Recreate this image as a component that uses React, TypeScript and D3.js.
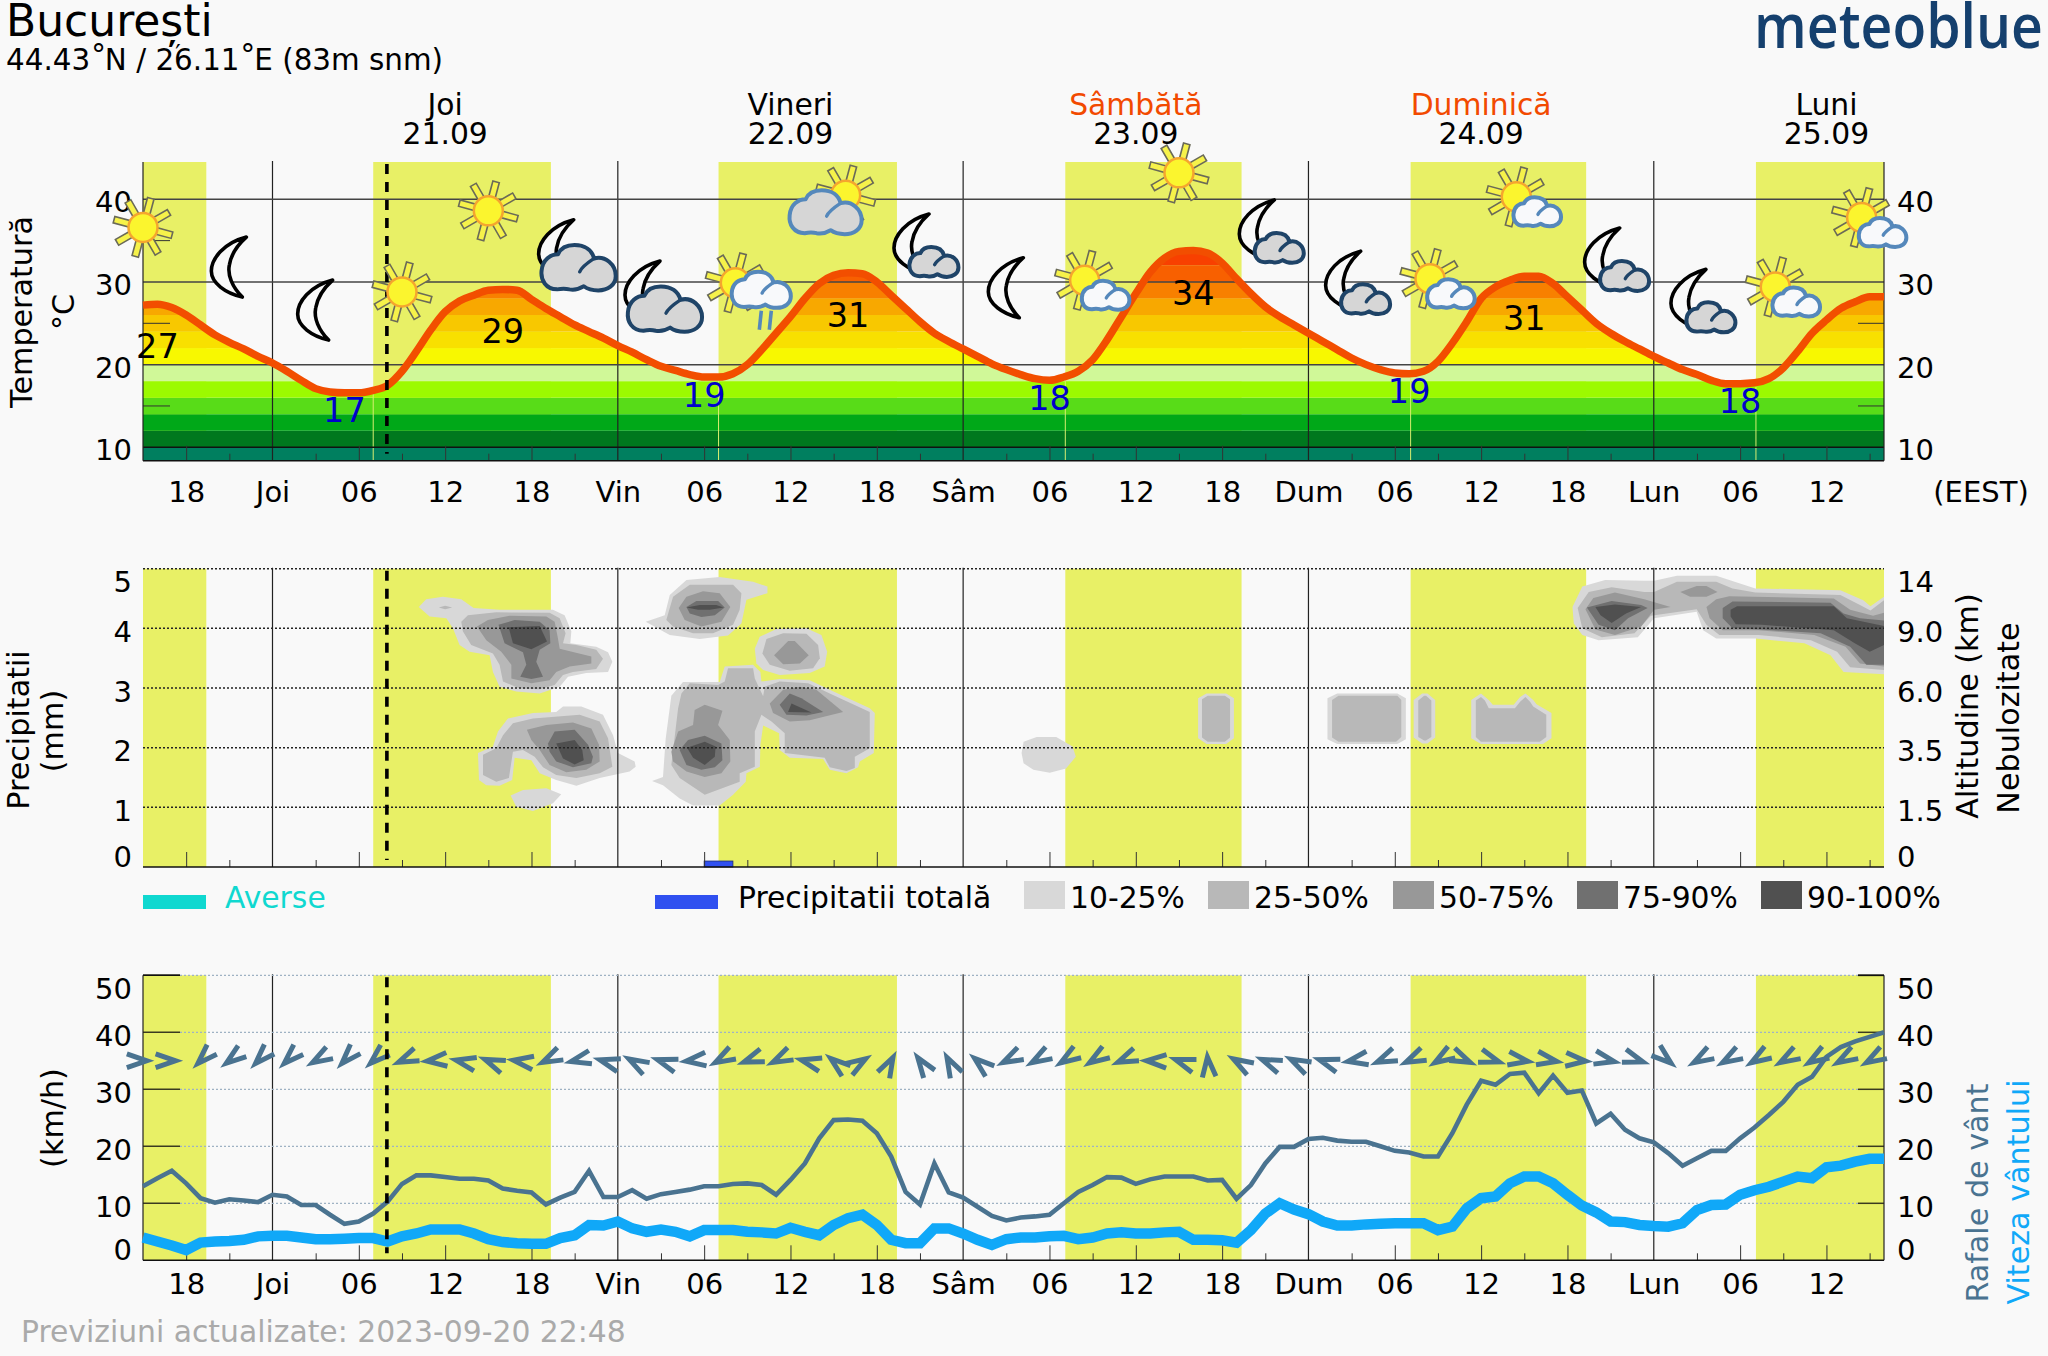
import React, { useEffect, useRef } from 'react';
import * as d3 from 'd3';

type Pt = [number, number];

// hours are counted from midnight at the start of Thursday 21.09
const firstHour = -9;
const lastHour = 112;

const tempValues = [
  27.2, 27.3, 26.9, 26.0, 24.8, 23.6, 22.7, 21.9, 21.0, 20.2, 19.2, 18.1, 17.1, 16.7, 16.6, 16.6, 16.9, 17.5, 19.2, 21.6, 24.2, 26.4, 27.7, 28.4, 29.0,
  29.1, 29.0, 27.9, 26.8, 25.8, 24.8, 24.0, 23.2, 22.3, 21.5, 20.6, 19.8, 19.3, 18.8, 18.5, 18.5, 18.9, 20.0, 21.8, 23.8, 25.8, 28.0, 29.8, 30.8, 31.1,
  31.0, 30.0, 28.4, 26.8, 25.2, 23.8, 22.8, 21.9, 21.0, 20.1, 19.4, 18.8, 18.3, 18.1, 18.5, 19.2, 20.6, 23.0, 25.8, 28.6, 31.2, 32.9, 33.7, 33.8, 33.5,
  32.3, 30.4, 28.6, 27.0, 25.8, 24.8, 23.8, 22.8, 21.8, 20.8, 20.0, 19.4, 19.0, 18.9, 19.2, 20.4, 22.6, 25.2, 28.0, 29.4, 30.2, 30.7, 30.7, 29.8, 28.2,
  26.6, 25.0, 23.8, 22.8, 21.9, 21.0, 20.2, 19.4, 18.8, 18.1, 17.7, 17.7, 17.8, 18.3, 19.6, 21.6, 23.8, 25.4, 26.8, 27.6, 28.2, 28.2,
];
const gustValues = [
  13.0, 14.4, 15.7, 13.5, 10.9, 10.1, 10.7, 10.5, 10.2, 11.5, 11.2, 9.7, 9.7, 8.0, 6.4, 6.8, 8.2, 10.3, 13.4, 14.9, 14.9, 14.6, 14.3, 14.3, 14.0,
  12.6, 12.2, 11.9, 9.8, 11.0, 12.0, 15.7, 11.1, 11.1, 12.3, 10.8, 11.6, 12.0, 12.4, 13.0, 13.0, 13.4, 13.5, 13.2, 11.5, 14.1, 17.0, 21.4, 24.6, 24.7,
  24.5, 22.3, 18.2, 12.0, 9.8, 17.0, 11.9, 11.0, 9.4, 7.8, 7.0, 7.5, 7.7, 8.0, 10.0, 12.0, 13.2, 14.6, 14.5, 13.4, 14.2, 14.7, 14.7, 14.7, 14.0,
  14.1, 10.8, 13.2, 17.0, 19.9, 19.9, 21.3, 21.5, 21.0, 20.8, 20.8, 20.0, 19.2, 18.9, 18.2, 18.2, 22.3, 27.3, 31.5, 30.8, 32.7, 32.9, 29.3, 32.4, 29.4,
  29.8, 24.0, 25.7, 22.9, 21.4, 20.7, 18.8, 16.6, 17.9, 19.2, 19.2, 21.4, 23.3, 25.5, 27.8, 30.8, 32.2, 35.7, 37.4, 38.4, 39.2, 40.0,
];
const speedValues = [
  4.0, 3.3, 2.6, 1.8, 3.1, 3.3, 3.4, 3.6, 4.2, 4.3, 4.3, 4.0, 3.7, 3.7, 3.8, 3.9, 3.9, 3.3, 4.2, 4.7, 5.4, 5.4, 5.4, 4.7, 3.7,
  3.2, 3.0, 2.9, 2.9, 3.9, 4.4, 6.2, 6.1, 6.8, 5.6, 5.0, 5.4, 5.0, 4.2, 5.3, 5.3, 5.3, 5.0, 4.9, 4.7, 5.7, 5.0, 4.4, 6.2, 7.4,
  8.0, 6.2, 3.6, 3.0, 3.0, 5.6, 5.6, 4.7, 3.6, 2.7, 3.7, 4.0, 4.0, 4.2, 4.3, 3.7, 4.0, 4.7, 4.9, 4.7, 4.7, 4.9, 5.0, 3.6, 3.6,
  3.5, 3.1, 5.3, 8.2, 10.0, 8.9, 8.1, 6.8, 6.1, 6.1, 6.3, 6.4, 6.5, 6.5, 6.5, 5.3, 5.9, 9.1, 10.9, 11.2, 13.5, 14.7, 14.7, 13.5, 11.5,
  9.6, 8.4, 6.8, 6.7, 6.2, 6.0, 5.9, 6.5, 8.8, 9.7, 9.8, 11.5, 12.3, 12.9, 13.8, 14.7, 14.4, 16.3, 16.6, 17.3, 17.8, 17.8,
];
// one arrow every two hours from firstHour, heading in degrees (0 = east, 90 = south)
const windHeadings = [
  0, 0, 135, 143, 134, 136, 150, 133, 138, 157, 175, 192, 202, 188, 154, 167, 196, 209, 198, 174, 151, 160, 154, 194, 219, 328, 298, 235, 242, 220, 153,
  150, 147, 147, 157, 182, 199, 265, 210, 202, 207, 198, 170, 157, 155, 148, 24, 18, 9, 10, 5, 12, 18, 40, 150, 150, 148, 150, 148, 150, 150,
];

const dayStarts = [-9, 7, 31, 55.1, 79.1, 103.1];
const dayEnds = [-4.6, 19.35, 43.4, 67.35, 91.3, 112];
const nowHour = 7.95;

const dayHeaderHours = [12, 36, 60, 84, 108];
const dayHeaderNames = ['Joi', 'Vineri', 'Sâmbătă', 'Duminică', 'Luni'];
const dayHeaderDates = ['21.09', '22.09', '23.09', '24.09', '25.09'];
const dayHeaderColors = ['#000', '#000', '#f24a00', '#f24a00', '#000'];
const dayAbbr = ['Joi', 'Vin', 'Sâm', 'Dum', 'Lun'];

const tempTicks = [40, 30, 20, 10];
const tempMinorTicks = [35, 25, 15];
const bandEdges = [8, 10, 12, 14, 16, 18, 20, 22, 24, 26, 28, 30, 32, 34];
const bandColors = ['#007f5f', '#00781e', '#00a818', '#58dc18', '#9cfa00', '#d0f898', '#f8f800', '#f8e000', '#f8c800', '#f8a800', '#f88000', '#f86000', '#f84000'];

const maxLabelHours = [-8, 16, 40, 64, 87];
const maxLabelTexts = ['27', '29', '31', '34', '31'];
const minLabelHours = [5, 30, 54, 79, 102];
const minLabelTexts = ['17', '19', '18', '19', '18'];

const iconHours = [-9, -3, 3, 9, 15, 21, 27, 33, 39, 45, 51, 57, 63, 69, 75, 81, 87, 93, 99, 105, 111];
const iconKinds = ['sun', 'moon', 'moon', 'sun', 'sun', 'moonBig', 'moonBig', 'sunRain', 'sunBig', 'moonSmall', 'moon', 'sunSmall', 'sun', 'moonSmall', 'moonSmall', 'sunSmall', 'sunSmall', 'moonSmall', 'moonSmall', 'sunSmall', 'sunSmall'];
const iconLevels = [36.6, 31.8, 26.6, 28.8, 38.6, 33.9, 28.9, 29.9, 40.5, 34.6, 29.3, 30.2, 43.2, 36.3, 30.1, 30.4, 40.3, 32.9, 27.9, 29.4, 37.8];

const precipTicks = [5, 4, 3, 2, 1, 0];
const altitudeLabels = ['14', '9.0', '6.0', '3.5', '1.5', '0'];
const precipStart = 30;
const precipEnd = 32;
const precipAmount = 0.1;

const windTicks = [50, 40, 30, 20, 10, 0];

// cloud cover outlines as [hour, axis value], one list per cover class
const cloud10: Pt[][] = [
  [[10.17,4.36],[10.68,4.49],[11.84,4.53],[13.12,4.49],[13.98,4.34],[15.78,4.31],[19.49,4.31],[20.3,4.22],[20.77,3.95],[20.7,3.75],[22.5,3.69],[23.32,3.6],[23.62,3.44],[23.32,3.27],[21.81,3.25],[20.54,3.19],[19.96,3.02],[18.57,2.91],[16.94,2.94],[15.78,3.02],[15.32,3.27],[15.09,3.55],[13.7,3.61],[13.0,3.72],[12.54,4.0],[12.08,4.17],[10.92,4.2]],
  [[14.28,1.91],[15.32,2.02],[15.67,2.27],[16.36,2.49],[18.1,2.58],[19.72,2.6],[20.19,2.69],[21.46,2.69],[22.97,2.55],[23.67,2.21],[24.01,1.91],[25.17,1.77],[25.24,1.68],[24.82,1.6],[22.74,1.49],[21.12,1.36],[19.72,1.46],[18.57,1.57],[17.99,1.79],[16.83,1.83],[16.66,1.46],[15.78,1.36],[14.86,1.37],[14.35,1.46]],
  [[16.55,1.2],[17.41,1.29],[19.03,1.32],[20.07,1.22],[19.49,1.07],[18.1,0.94],[16.94,1.01]],
  [[25.94,4.11],[27.26,4.22],[27.61,4.56],[28.77,4.81],[31.08,4.86],[33.4,4.78],[34.4,4.7],[34.4,4.59],[32.94,4.48],[32.59,4.08],[31.66,3.88],[29.69,3.82],[27.61,3.89]],
  [[33.52,3.66],[33.86,3.86],[35.02,3.99],[37.11,4.0],[38.15,3.89],[38.55,3.61],[38.38,3.36],[37.34,3.25],[35.25,3.22],[34.1,3.3],[33.63,3.41]],
  [[26.38,1.44],[27.14,1.51],[27.33,2.16],[27.72,2.87],[28.53,3.1],[31.08,3.1],[31.43,3.36],[33.4,3.39],[33.91,3.27],[33.98,3.11],[35.25,3.15],[37.34,3.13],[38.73,2.97],[41.51,2.66],[41.86,2.58],[41.79,1.91],[40.82,1.77],[40.7,1.67],[39.89,1.57],[38.73,1.63],[38.27,1.81],[35.95,1.83],[35.25,1.96],[35.21,2.24],[34.1,2.37],[33.91,2.05],[33.87,1.68],[32.94,1.57],[32.89,1.43],[32.01,1.21],[31.08,1.03],[29.23,1.03],[28.3,1.15],[27.14,1.37]],
  [[52.2,2.1],[53.11,2.18],[54.47,2.18],[55.61,2.02],[55.83,1.85],[55.15,1.65],[54.02,1.58],[52.88,1.63],[52.2,1.74],[52.06,1.91]],
  [[64.33,2.83],[64.92,2.91],[66.28,2.91],[66.82,2.83],[66.82,2.16],[66.28,2.06],[64.92,2.06],[64.33,2.16]],
  [[73.32,2.83],[74.0,2.91],[78.18,2.91],[78.77,2.83],[78.77,2.14],[78.18,2.06],[74.0,2.06],[73.32,2.14]],
  [[79.31,2.8],[79.9,2.91],[80.27,2.91],[80.81,2.8],[80.81,2.17],[80.27,2.07],[79.9,2.07],[79.31,2.17]],
  [[83.31,2.8],[83.99,2.91],[84.53,2.8],[84.81,2.72],[86.26,2.72],[86.71,2.85],[87.08,2.91],[87.62,2.8],[87.85,2.73],[88.89,2.58],[88.89,2.16],[88.3,2.06],[83.99,2.06],[83.31,2.16]],
  [[90.35,4.36],[91.03,4.7],[92.62,4.81],[95.34,4.8],[96.02,4.8],[97.61,4.88],[100.34,4.88],[103.06,4.67],[108.97,4.64],[110.56,4.47],[111.06,4.37],[112,4.53],[112,3.23],[109.19,3.27],[108.28,3.55],[106.47,3.75],[103.06,3.83],[100.34,3.83],[99.43,3.97],[98.98,4.28],[96.02,4.17],[94.89,3.85],[92.16,3.8],[91.03,3.89],[90.44,4.08]],
];
const cloud25: Pt[][] = [
  [[13.12,4.11],[13.58,4.22],[15.55,4.27],[19.26,4.26],[19.96,4.17],[20.37,3.92],[20.19,3.75],[21.12,3.72],[22.5,3.64],[22.97,3.49],[22.5,3.32],[20.88,3.27],[20.19,3.22],[19.61,3.05],[18.57,2.98],[17.17,2.99],[16.02,3.11],[15.78,3.39],[15.32,3.58],[13.81,3.72],[13.23,3.95]],
  [[11.56,4.35],[12.0,4.38],[12.49,4.35],[12.0,4.32]],
  [[14.63,1.88],[15.55,1.99],[16.02,2.21],[16.71,2.41],[18.1,2.49],[21.35,2.55],[22.74,2.44],[23.32,2.16],[23.62,1.68],[22.74,1.57],[21.12,1.49],[19.72,1.54],[18.8,1.67],[18.22,1.85],[17.41,1.96],[16.71,1.93],[16.43,1.49],[15.55,1.43],[14.63,1.54]],
  [[27.37,4.14],[27.84,4.53],[29.0,4.73],[32.01,4.73],[32.59,4.59],[32.47,4.31],[32.01,4.06],[30.62,3.92],[29.23,3.92],[27.84,4.03]],
  [[34.05,3.58],[34.33,3.82],[35.49,3.92],[37.11,3.91],[37.92,3.72],[38.04,3.5],[37.57,3.33],[35.95,3.29],[34.56,3.39]],
  [[27.72,1.71],[28.19,2.66],[28.42,2.91],[29.0,3.08],[30.97,3.05],[31.43,3.11],[31.66,3.33],[33.4,3.33],[33.52,3.16],[34.1,2.86],[34.21,3.02],[35.25,3.11],[37.23,3.08],[38.73,2.91],[41.51,2.6],[41.51,1.99],[40.47,1.85],[40.47,1.66],[39.89,1.61],[38.73,1.67],[38.38,1.83],[35.6,1.91],[35.6,2.24],[34.68,2.44],[33.98,2.55],[33.52,2.27],[33.52,1.68],[32.47,1.57],[32.47,1.43],[30.04,1.21],[28.3,1.49]],
  [[64.6,2.81],[65.0,2.87],[66.19,2.87],[66.55,2.81],[66.55,2.17],[66.19,2.1],[65.0,2.1],[64.6,2.17]],
  [[73.64,2.8],[74.09,2.87],[78.18,2.87],[78.45,2.8],[78.45,2.18],[78.09,2.1],[74.09,2.1],[73.64,2.17]],
  [[79.63,2.79],[80.04,2.87],[80.17,2.87],[80.54,2.79],[80.54,2.18],[80.17,2.12],[80.04,2.12],[79.63,2.18]],
  [[83.63,2.79],[83.99,2.85],[84.26,2.79],[84.53,2.66],[86.35,2.66],[86.71,2.77],[87.08,2.85],[87.4,2.77],[87.62,2.69],[88.53,2.55],[88.53,2.18],[88.08,2.1],[83.99,2.1],[83.63,2.18]],
  [[90.71,4.34],[91.48,4.61],[93.07,4.69],[95.34,4.61],[96.02,4.61],[97.61,4.78],[100.34,4.78],[101.47,4.67],[103.06,4.6],[108.97,4.56],[110.33,4.39],[111.06,4.3],[112,4.47],[112,3.3],[109.65,3.35],[108.74,3.61],[106.92,3.8],[103.29,3.89],[100.56,3.89],[99.66,4.06],[98.98,4.32],[95.8,4.21],[94.66,3.92],[92.39,3.85],[91.03,4.0]],
];
const cloud50: Pt[][] = [
  [[14.21,4.03],[14.97,4.14],[16.48,4.21],[19.03,4.2],[19.61,4.11],[19.84,3.83],[19.96,3.66],[22.16,3.53],[22.16,3.41],[20.65,3.36],[19.72,3.27],[19.26,3.13],[17.99,3.08],[16.6,3.16],[16.6,3.39],[15.9,3.61],[14.86,3.8]],
  [[17.68,2.3],[19.03,2.38],[20.88,2.42],[22.16,2.32],[22.69,2.05],[22.74,1.77],[21.81,1.63],[20.42,1.59],[19.26,1.71],[18.57,1.96],[17.99,2.13]],
  [[28.23,4.34],[28.77,4.53],[29.92,4.62],[31.08,4.59],[31.82,4.36],[31.2,4.11],[29.81,4.03],[28.65,4.14]],
  [[34.86,3.55],[35.84,3.79],[36.3,3.79],[37.27,3.55],[36.65,3.41],[35.49,3.4]],
  [[27.72,1.93],[28.19,2.27],[29.23,2.38],[29.34,2.63],[30.04,2.72],[31.27,2.62],[30.97,2.38],[31.78,2.13],[31.82,1.77],[31.2,1.57],[30.04,1.51],[28.77,1.6],[27.84,1.77]],
  [[34.56,2.74],[35.49,2.97],[36.65,3.02],[37.8,2.97],[39.66,2.6],[37.34,2.46],[35.95,2.44],[34.79,2.58]],
  [[97.84,4.61],[98.98,4.71],[99.66,4.71],[100.43,4.61],[99.66,4.53],[98.52,4.53]],
  [[91.25,4.32],[91.8,4.51],[93.3,4.6],[95.34,4.49],[97.16,4.36],[96.02,4.31],[95.12,4.03],[93.3,3.89],[91.94,3.98]],
  [[99.66,4.36],[100.34,4.49],[101.25,4.54],[108.51,4.5],[109.65,4.31],[111.24,4.21],[112,4.26],[112,3.36],[110.33,3.41],[109.33,3.69],[107.15,3.89],[103.29,3.97],[100.79,3.97],[99.88,4.17]],
];
const cloud75: Pt[][] = [
  [[15.71,4.06],[16.83,4.14],[18.57,4.11],[19.26,3.97],[19.31,3.75],[18.57,3.64],[18.33,3.44],[18.8,3.19],[17.99,3.15],[17.22,3.19],[17.64,3.39],[17.41,3.6],[16.13,3.75]],
  [[19.15,2.07],[19.61,2.27],[21.0,2.3],[21.93,2.05],[22.27,1.85],[22.16,1.74],[20.88,1.67],[19.72,1.77],[19.26,1.93]],
  [[28.77,4.36],[29.46,4.46],[30.97,4.46],[31.43,4.35],[30.74,4.22],[29.81,4.19],[29.0,4.25]],
  [[28.3,1.96],[28.88,2.13],[30.04,2.2],[31.2,2.07],[31.27,1.79],[30.74,1.67],[29.81,1.63],[28.77,1.71]],
  [[35.25,2.72],[35.95,2.91],[36.76,2.83],[38.27,2.6],[37.11,2.54],[35.72,2.55]],
  [[91.35,4.35],[93.07,4.46],[95.12,4.39],[95.57,4.34],[94.21,4.17],[93.3,3.97],[92.16,4.06]],
  [[100.79,4.34],[101.47,4.45],[108.28,4.43],[109.19,4.25],[110.33,4.17],[112,4.13],[112,3.39],[110.78,3.39],[109.65,3.69],[107.6,3.92],[103.52,3.98],[101.47,4.0],[100.79,4.17]],
];
const cloud90: Pt[][] = [
  [[16.41,4.02],[18.57,4.04],[19.08,3.78],[17.99,3.65],[16.71,3.75]],
  [[19.72,2.07],[21.0,2.13],[21.53,1.96],[21.63,1.79],[21.0,1.72],[20.19,1.82]],
  [[28.77,4.35],[29.69,4.39],[30.84,4.39],[31.36,4.35],[30.39,4.31],[29.58,4.31]],
  [[28.81,2.0],[30.04,2.1],[30.8,2.02],[30.74,1.85],[30.04,1.71],[29.23,1.83]],
  [[35.83,2.6],[36.07,2.74],[37.46,2.59]],
  [[91.94,4.36],[93.3,4.4],[95.12,4.36],[94.07,4.25],[93.07,4.09],[92.3,4.22]],
  [[101.34,4.31],[101.79,4.37],[108.51,4.37],[109.42,4.17],[112,4.04],[112,3.72],[111.01,3.61],[109.97,3.75],[108.51,3.97],[103.52,4.06],[101.7,4.07],[101.34,4.2]],
];
const cloudColors = ['#d8d8d8', '#b8b8b8', '#989898', '#707070', '#505050'];
const cloudNames = ['10-25%', '25-50%', '50-75%', '75-90%', '90-100%'];

const BG = '#f9f9f9';
const DAY = '#e8f066';
const GUST = '#4a7390';
const SPEED = '#10a8f8';
const SHOWER = '#10d8d0';
const PRECIP = '#3050f0';
const FONT = "'DejaVu Sans', sans-serif";
const TEXT_SIZE = 29;
const WIDE_SIZE = 29.8;
const TITLE_SIZE = 30.2;

const CLOUD_PATH = 'M-21,21 C-32,21 -37,12 -36,3 C-35,-8 -27,-13 -20,-13 C-17,-20 -10,-22 -4,-22 C6,-22 13,-17 15,-9 C26,-12 36,-3 36,8 C36,17 28,22 19,22 C14,22 9,21 5,18 C0,21 -4,22 -9,21 C-13,20 -16,20 -21,21 Z';
const CLOUD_CURL = 'M1,4 C3,-1 9,-5 15,-9';
const MOON_PATH = 'M17,-30 C-6,-24 -18,-8 -18,4 C-18,16 -4,26 13,30 C3,20 -2,8 0,-2 C2,-14 8,-22 17,-30 Z';

const drawSun = (g: any, cx: number, cy: number) => {
  const sun = g.append('g').attr('transform', `translate(${cx},${cy})`);
  d3.range(8).forEach((i) => {
    sun.append('rect')
      .attr('x', -3.3).attr('y', -30).attr('width', 6.6).attr('height', 16)
      .attr('transform', `rotate(${15 + i * 45})`)
      .attr('fill', '#f6f24a').attr('stroke', '#6a6a58').attr('stroke-width', 1.6);
  });
  sun.append('circle').attr('r', 14.5).attr('fill', '#fbf52e').attr('stroke', '#f5a62e').attr('stroke-width', 2.5);
};

const drawMoon = (g: any, cx: number, cy: number) => {
  g.append('path')
    .attr('transform', `translate(${cx},${cy})`)
    .attr('d', MOON_PATH)
    .attr('fill', BG).attr('stroke', '#000').attr('stroke-width', 3.6).attr('stroke-linejoin', 'round');
};

const drawCloud = (g: any, cx: number, cy: number, s: number, stroke: string, fill: string) => {
  const c = g.append('g').attr('transform', `translate(${cx},${cy}) scale(${s})`);
  c.append('path').attr('d', CLOUD_PATH).attr('fill', fill).attr('stroke', stroke).attr('stroke-width', 4 / s).attr('stroke-linejoin', 'round');
  c.append('path').attr('d', CLOUD_CURL).attr('fill', 'none').attr('stroke', stroke).attr('stroke-width', 3.4 / s).attr('stroke-linecap', 'round');
};

const drawIcon = (g: any, kind: string, cx: number, cy: number) => {
  const navy = '#1f4468';
  const blue = '#5588bb';
  if (kind === 'sun') drawSun(g, cx, cy);
  if (kind === 'moon') drawMoon(g, cx, cy);
  if (kind === 'moonBig') {
    drawMoon(g, cx - 18, cy);
    drawCloud(g, cx + 4, cy + 18, 1.03, navy, '#d6d6d6');
  }
  if (kind === 'moonSmall') {
    drawMoon(g, cx - 8, cy);
    drawCloud(g, cx + 14, cy + 18, 0.68, navy, '#d6d6d6');
  }
  if (kind === 'sunSmall') {
    drawSun(g, cx - 8, cy);
    drawCloud(g, cx + 13, cy + 15, 0.66, blue, '#f8f9fb');
  }
  if (kind === 'sunBig') {
    drawSun(g, cx + 12, cy);
    drawCloud(g, cx - 8, cy + 17, 1, blue, '#d6d6d6');
  }
  if (kind === 'sunRain') {
    drawSun(g, cx - 12, cy);
    [12, 22].forEach((dx) => {
      g.append('line')
        .attr('x1', cx + dx + 2).attr('y1', cy + 28).attr('x2', cx + dx).attr('y2', cy + 47)
        .attr('stroke', blue).attr('stroke-width', 3.6);
    });
    drawCloud(g, cx + 14, cy + 7, 0.82, blue, '#f8f9fb');
  }
};

export default function App() {
  const svgRef = useRef<SVGSVGElement>(null);

  useEffect(() => {
    if (!svgRef.current) return;
    const svg = d3.select(svgRef.current);
    svg.selectAll('*').remove();

    const hours = d3.range(firstHour, lastHour + 1);
    const x = d3.scaleLinear().domain([firstHour, lastHour]).range([143, 1884]);
    const yTemp = d3.scaleLinear().domain([10, 40]).range([447.3, 199.3]);
    const yPrecip = d3.scaleLinear().domain([0, 5]).range([867, 568.7]);
    const yWind = d3.scaleLinear().domain([0, 50]).range([1260.3, 975.3]);
    const tempTop = 162;
    const tempBottom = 460.7;

    const plain = (sel: any, size = TEXT_SIZE, fill = '#000') =>
      sel.attr('font-family', FONT).attr('font-size', size).attr('fill', fill);

    const addText = (tx: number, ty: number, s: string, anchor = 'middle', size = TEXT_SIZE, fill = '#000') =>
      plain(svg.append('text'), size, fill).attr('x', tx).attr('y', ty).attr('text-anchor', anchor).text(s);

    const addRotated = (tx: number, ty: number, s: string, size = TITLE_SIZE, fill = '#000') =>
      plain(svg.append('text'), size, fill)
        .attr('transform', `translate(${tx},${ty}) rotate(-90)`)
        .attr('text-anchor', 'middle')
        .attr('dy', '0.36em')
        .text(s);

    svg.append('rect').attr('width', 2048).attr('height', 1356).attr('fill', BG);

    // daylight in the three panels
    const panels: [number, number][] = [[tempTop, tempBottom], [yPrecip(5), yPrecip(0)], [yWind(50), yWind(0)]];
    panels.forEach(([top, bottom]) => {
      dayStarts.forEach((start, i) => {
        svg.append('rect')
          .attr('x', x(start)).attr('y', top)
          .attr('width', x(dayEnds[i]) - x(start)).attr('height', bottom - top)
          .attr('fill', DAY);
      });
    });

    // temperature colour bands cut by the curve
    const tempCurve = d3.curveMonotoneX;
    const area = d3.area<number>().x((h) => x(h)).y0(tempBottom).y1((h) => yTemp(tempValues[h - firstHour])).curve(tempCurve);
    svg.append('clipPath').attr('id', 'under-temp').append('path').attr('d', area(hours));
    const bands = svg.append('g').attr('clip-path', 'url(#under-temp)');
    bandColors.forEach((color, i) => {
      bands.append('rect')
        .attr('x', x(firstHour)).attr('width', x(lastHour) - x(firstHour))
        .attr('y', i === 0 ? yTemp(bandEdges[1]) : yTemp(bandEdges[i + 1]))
        .attr('height', i === 0 ? tempBottom - yTemp(bandEdges[1]) : yTemp(bandEdges[i]) - yTemp(bandEdges[i + 1]))
        .attr('fill', color);
    });
    dayStarts.slice(1).forEach((start) => {
      svg.append('line')
        .attr('x1', x(start)).attr('x2', x(start))
        .attr('y1', yTemp(tempValues[Math.round(start) - firstHour]) + 4).attr('y2', tempBottom)
        .attr('stroke', '#d8ee70').attr('stroke-width', 1);
    });

    // clouds
    const ring = d3.line<Pt>().x((d) => x(d[0])).y((d) => yPrecip(d[1]));
    [cloud10, cloud25, cloud50, cloud75, cloud90].forEach((rings, i) => {
      rings.forEach((r) => {
        svg.append('path').attr('d', `${ring(r)}Z`).attr('fill', cloudColors[i]);
      });
    });

    // precipitation
    svg.append('rect')
      .attr('x', x(precipStart)).attr('y', yPrecip(precipAmount))
      .attr('width', x(precipEnd) - x(precipStart)).attr('height', yPrecip(0) - yPrecip(precipAmount))
      .attr('fill', PRECIP).attr('stroke', '#1a2a70').attr('stroke-width', 0.8);

    // midnight lines
    panels.forEach(([top, bottom]) => {
      [0, 24, 48, 72, 96].forEach((h) => {
        svg.append('line')
          .attr('x1', x(h)).attr('x2', x(h)).attr('y1', top - 1).attr('y2', bottom)
          .attr('stroke', '#222').attr('stroke-width', 1.2);
      });
    });

    // horizontal grids
    tempTicks.forEach((t) => {
      svg.append('line')
        .attr('x1', x(firstHour)).attr('x2', x(lastHour)).attr('y1', yTemp(t)).attr('y2', yTemp(t))
        .attr('stroke', t === 10 ? '#111' : '#444').attr('stroke-width', 1.5);
    });
    tempMinorTicks.forEach((t) => {
      svg.append('line').attr('x1', x(firstHour)).attr('x2', 170).attr('y1', yTemp(t)).attr('y2', yTemp(t)).attr('stroke', '#333').attr('stroke-width', 1);
      svg.append('line').attr('x1', 1858).attr('x2', x(lastHour)).attr('y1', yTemp(t)).attr('y2', yTemp(t)).attr('stroke', '#333').attr('stroke-width', 1);
    });
    precipTicks.slice(0, 5).forEach((t) => {
      svg.append('line')
        .attr('x1', x(firstHour)).attr('x2', x(lastHour)).attr('y1', yPrecip(t)).attr('y2', yPrecip(t))
        .attr('stroke', '#222').attr('stroke-width', 1.5).attr('stroke-dasharray', '2 2');
    });
    windTicks.slice(0, 5).forEach((t) => {
      svg.append('line')
        .attr('x1', 180).attr('x2', 1858).attr('y1', yWind(t)).attr('y2', yWind(t))
        .attr('stroke', '#9fb2c4').attr('stroke-width', 1.3).attr('stroke-dasharray', '2 2');
      [[143, 180], [1858, 1884]].forEach(([a, b]) => {
        svg.append('line').attr('x1', a).attr('x2', b).attr('y1', yWind(t)).attr('y2', yWind(t)).attr('stroke', '#3a3a20').attr('stroke-width', 1.5);
      });
    });

    // x axes: tick marks inside the plot, labels under it
    const tickHours = d3.range(-6, lastHour, 3);
    const longTicks = tickHours.filter((h) => h % 6 === 0 && h % 24 !== 0);
    const shortTicks = tickHours.filter((h) => h % 6 !== 0);
    [tempBottom, yPrecip(0), yWind(0)].forEach((base) => {
      [{ vals: longTicks, size: 15 }, { vals: shortTicks, size: 7 }].forEach(({ vals, size }) => {
        const axis = d3.axisTop(x).tickValues(vals).tickSize(size).tickFormat(() => '');
        const ag = svg.append('g').attr('transform', `translate(0,${base})`).call(axis);
        ag.select('.domain').remove();
        ag.selectAll('.tick line').attr('stroke', '#333').attr('stroke-width', 1);
      });
      svg.append('line').attr('x1', 143).attr('x2', 1884).attr('y1', base).attr('y2', base).attr('stroke', '#111').attr('stroke-width', 1.6);
    });
    [[tempTop, tempBottom], [yWind(50), yWind(0)]].forEach(([top, bottom]) => {
      [143, 1884].forEach((bx) => {
        svg.append('line').attr('x1', bx).attr('x2', bx).attr('y1', top).attr('y2', bottom).attr('stroke', '#222').attr('stroke-width', 1.2);
      });
    });
    svg.append('line').attr('x1', 143).attr('x2', 180).attr('y1', yWind(50)).attr('y2', yWind(50)).attr('stroke', '#111').attr('stroke-width', 1.6);
    svg.append('line').attr('x1', 1858).attr('x2', 1884).attr('y1', yWind(50)).attr('y2', yWind(50)).attr('stroke', '#111').attr('stroke-width', 1.6);

    const labelHours = d3.range(-6, 109, 6);
    const hourLabel = (h: d3.NumberValue) => {
      const v = +h;
      if (v % 24 === 0) return dayAbbr[v / 24];
      return d3.format('02')((v + 48) % 24);
    };
    [501.7, 1294].forEach((base) => {
      const ag = svg.append('g').attr('transform', `translate(0,${base})`)
        .call(d3.axisBottom(x).tickValues(labelHours).tickSize(0).tickFormat(hourLabel));
      ag.select('.domain').remove();
      ag.selectAll('text').attr('y', 0).attr('dy', 0).attr('fill', '#000').attr('font-family', FONT).attr('font-size', TEXT_SIZE);
    });
    addText(1981, 501.7, '(EEST)');

    // temperature and wind lines
    const lineOf = (vals: number[], y: (v: number) => number) =>
      d3.line<number>().x((h) => x(h)).y((h) => y(vals[h - firstHour]));
    svg.append('path').attr('d', lineOf(gustValues, yWind)(hours))
      .attr('fill', 'none').attr('stroke', GUST).attr('stroke-width', 4.6);
    svg.append('path').attr('d', lineOf(speedValues, yWind)(hours))
      .attr('fill', 'none').attr('stroke', SPEED).attr('stroke-width', 10.5);
    svg.append('path').attr('d', lineOf(tempValues, yTemp).curve(tempCurve)(hours))
      .attr('fill', 'none').attr('stroke', '#f24e00').attr('stroke-width', 7.5);

    // wind direction arrows
    const arrowLen = 21;
    const arrowSpread = 19;
    windHeadings.forEach((heading, i) => {
      const hour = firstHour + i * 2;
      const g = svg.append('g').attr('transform', `translate(${x(hour)},${yWind(35)}) rotate(${heading})`);
      const a = (arrowSpread * Math.PI) / 180;
      g.append('path')
        .attr('d', `M${3.7 - arrowLen * Math.cos(a)},${-arrowLen * Math.sin(a)} L3.7,0 L${3.7 - arrowLen * Math.cos(a)},${arrowLen * Math.sin(a)}`)
        .attr('fill', 'none').attr('stroke', GUST).attr('stroke-width', 5).attr('stroke-linejoin', 'miter');
    });

    // now marker
    panels.forEach(([top, bottom]) => {
      svg.append('line')
        .attr('x1', x(nowHour)).attr('x2', x(nowHour)).attr('y1', top + 2).attr('y2', bottom - 7)
        .attr('stroke', '#000').attr('stroke-width', 3.6).attr('stroke-dasharray', '10 8');
    });

    // y axis labels
    tempTicks.forEach((t) => {
      addText(132, yTemp(t) + 13, String(t), 'end');
      addText(1897, yTemp(t) + 13, String(t), 'start');
    });
    const edgeShift = (i: number, n: number) => (i === 0 ? 23.5 : i === n - 1 ? 0 : 13.7);
    precipTicks.forEach((t, i) => {
      addText(132, yPrecip(t) + edgeShift(i, precipTicks.length), String(t), 'end');
      addText(1897, yPrecip(t) + edgeShift(i, precipTicks.length), altitudeLabels[i], 'start');
    });
    windTicks.forEach((t, i) => {
      addText(132, yWind(t) + edgeShift(i, windTicks.length), String(t), 'end');
      addText(1897, yWind(t) + edgeShift(i, windTicks.length), String(t), 'start');
    });

    // axis titles
    addRotated(21, 312, 'Temperatură');
    addRotated(63, 312, '°C');
    addRotated(18, 730, 'Precipitatii');
    addRotated(52, 731, '(mm)');
    addRotated(52, 1118, '(km/h)');
    addRotated(1967, 706, 'Altitudine (km)');
    addRotated(2008, 718, 'Nebulozitate');
    addRotated(1977, 1193, 'Rafale de vânt', TITLE_SIZE, GUST);
    addRotated(2018, 1192, 'Viteza vântului', TITLE_SIZE, SPEED);

    // title block
    addText(6, 36, 'București', 'start', 44);
    const coords = addText(6, 70, '', 'start', 29.4);
    [['44.43', 0, 0], ['°', -5, 1], ['N / 26.11', 5, -1], ['°', -5, 1], ['E (83m snm)', 5, -1]].forEach(([s, dy, dx]) => {
      coords.append('tspan').attr('dy', dy as number).attr('dx', dx as number).text(s as string);
    });
    addText(178, 62, '′', 'middle', 24);
    svg.append('text')
      .attr('x', 2043).attr('y', 47.7).attr('text-anchor', 'end')
      .attr('font-family', "'Open Sans', sans-serif").attr('font-weight', 600).attr('font-size', 62)
      .attr('textLength', 289).attr('lengthAdjust', 'spacingAndGlyphs')
      .attr('fill', '#15406e').text('meteoblue');

    dayHeaderHours.forEach((h, i) => {
      addText(x(h), 115, dayHeaderNames[i], 'middle', WIDE_SIZE, dayHeaderColors[i]);
      addText(x(h), 143.5, dayHeaderDates[i], 'middle', WIDE_SIZE);
    });

    // min and max temperature labels
    maxLabelHours.forEach((h, i) => {
      addText(x(h), yTemp(tempValues[h - firstHour]) + 54, maxLabelTexts[i], 'middle', 33.5);
    });
    minLabelHours.forEach((h, i) => {
      addText(x(h), yTemp(tempValues[h - firstHour]) + 29.5, minLabelTexts[i], 'middle', 33.5, '#0000cc');
    });

    // legend
    svg.append('rect').attr('x', 143).attr('y', 895).attr('width', 63).attr('height', 14).attr('fill', SHOWER);
    addText(225, 908, 'Averse', 'start', WIDE_SIZE, SHOWER);
    svg.append('rect').attr('x', 655).attr('y', 895).attr('width', 63).attr('height', 14).attr('fill', PRECIP);
    addText(738, 908, 'Precipitatii totală', 'start', WIDE_SIZE);
    const swatchX = [1024, 1208, 1393, 1577, 1761];
    cloudNames.forEach((name, i) => {
      svg.append('rect').attr('x', swatchX[i]).attr('y', 881).attr('width', 41).attr('height', 28).attr('fill', cloudColors[i]);
      addText(swatchX[i] + 46, 908, name, 'start', WIDE_SIZE);
    });

    addText(21, 1341.7, 'Previziuni actualizate: 2023-09-20 22:48', 'start', WIDE_SIZE, '#aaaaaa');

    // weather icons sit on top of everything in the first panel
    const icons = svg.append('g');
    iconKinds.forEach((kind, i) => {
      drawIcon(icons, kind, x(iconHours[i]), yTemp(iconLevels[i]));
    });
  }, []);

  return (
    <svg
      ref={svgRef}
      width={2048}
      height={1356}
      style={{ position: 'absolute', left: 0, top: 0, display: 'block' }}
    />
  );
}
